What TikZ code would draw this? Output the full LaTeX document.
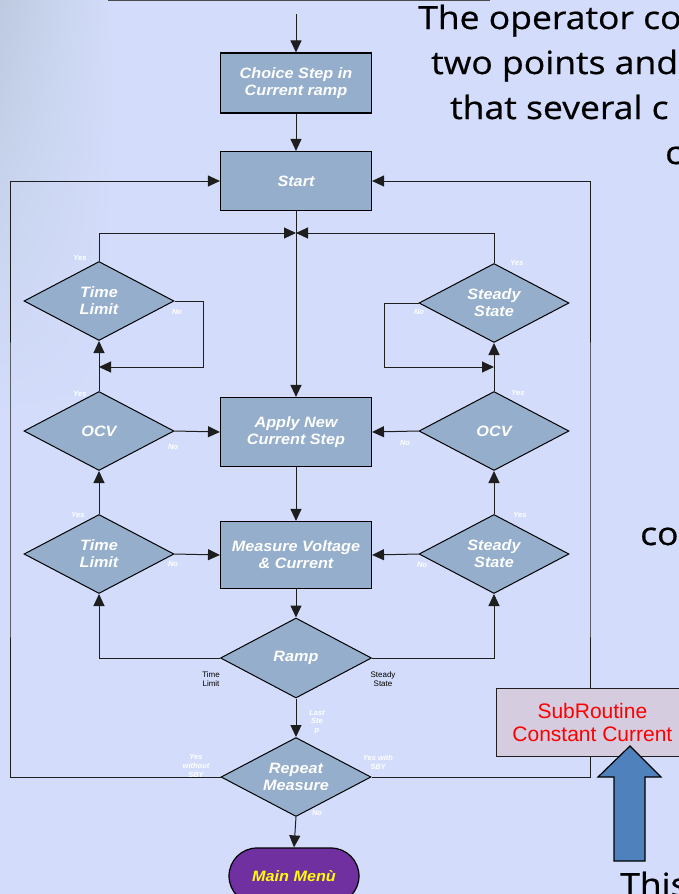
\documentclass[tikz,border=0pt]{standalone}
\usepackage{fontspec}
\setmainfont{Liberation Sans}
\newfontfamily\flowfont[FakeStretch=1.08]{Liberation Sans}
\newfontfamily\handfont[FakeStretch=1.11,FakeBold=0.6]{Open Sans}
\usetikzlibrary{arrows.meta,shapes.geometric}

\definecolor{pagebg}{RGB}{211,221,251}
\definecolor{haze}{RGB}{190,202,224}
\definecolor{boxblue}{RGB}{149,174,204}
\definecolor{menupurple}{RGB}{112,48,160}
\definecolor{menuyellow}{RGB}{255,255,0}
\definecolor{subfill}{RGB}{214,204,224}
\definecolor{blockblue}{RGB}{79,129,189}
\definecolor{linecol}{RGB}{30,30,30}

\tikzset{
  conn/.style={draw=linecol, line width=1pt},
  arr/.style={conn, -{Triangle[length=12pt,width=11pt]}},
  flowtext/.style={text=white, align=center, inner sep=0pt,
    font=\flowfont\bfseries\itshape\fontsize{15}{17}\selectfont},
  procbox/.style={flowtext, draw=black, line width=1.1pt, fill=boxblue,
    rectangle, minimum width=151pt},
  decision/.style={flowtext, draw=black, line width=1pt, fill=boxblue,
    diamond, aspect=1.9, minimum width=150pt, minimum height=79pt},
  tag/.style={text=white, inner sep=0pt, align=center,
    font=\bfseries\itshape\fontsize{7.5}{8.7}\selectfont},
  plaintag/.style={text=black, inner sep=0pt, align=center,
    font=\fontsize{8}{9}\selectfont},
  hand/.style={anchor=base west, inner sep=0pt,
    font=\handfont\fontsize{32}{32}\selectfont},
  subbox/.style={draw=linecol, line width=0.8pt, fill=subfill, text=red,
    align=center, inner sep=0pt, font=\fontsize{21}{23}\selectfont},
  menubox/.style={flowtext, draw=black, line width=1.2pt, fill=menupurple,
    text=menuyellow, rectangle, rounded corners=28pt,
    minimum width=130pt, minimum height=56pt},
}

\begin{document}
\begin{tikzpicture}[x=1pt,y=-1pt]
\useasboundingbox (0,0) rectangle (679,894);
\clip (0,0) rectangle (679,894);

% page background
\fill[pagebg] (0,0) rectangle (679,894);
% greyish haze in the upper left corner, thinning out downwards
\foreach \i in {0,...,83} {
  \pgfmathtruncatemacro\k{100*(1-\i/84)}
  \colorlet{hazestrip}{haze!\k!pagebg}
  \shade[left color=hazestrip, right color=pagebg]
    (0,\i*5) rectangle (115,\i*5+5.6);
}

% edge of the frame above
\draw[gray!60!black, line width=1.6pt] (108,0) -- (490,0);

% process boxes
\node[procbox, minimum height=60pt] (choice) at (296,83) {Choice Step in\\Current ramp};
\node[procbox, minimum height=59pt] (start) at (296,181) {Start};
\node[procbox, minimum height=69pt] (apply) at (296,432) {Apply New\\Current Step};
\node[procbox, minimum height=67pt] (measure) at (296,555) {Measure Voltage\\\& Current};

% decisions, left column
\node[decision] (tlA) at (99,301) {Time\\Limit};
\node[decision] (ocvL) at (99,431) {OCV};
\node[decision] (tlB) at (99,554) {Time\\Limit};

% decisions, right column
\node[decision] (ssA) at (494,303) {Steady\\State};
\node[decision] (ocvR) at (494,431) {OCV};
\node[decision] (ssB) at (494,554) {Steady\\State};

% decisions, centre
\node[decision, minimum width=151pt, minimum height=80pt] (ramp) at (296,658) {Ramp};
\node[decision] (repeat) at (296,777) {Repeat\\Measure};

% end of the routine
\node[menubox] (menu) at (294,876) {Main Menù};

% helper points
\coordinate (entry) at (296,14);
\coordinate (merge) at (296,233);
\coordinate (tlback) at (99,367);
\coordinate (ssback) at (494,367);
\coordinate (leftrail) at (10,500);
\coordinate (rightrail) at (590,500);

% main chain
\draw[arr] (entry) -- (choice.north);
\draw[arr] (choice.south) -- (start.north);
\draw[arr] (start.south) -- (apply.north);
\draw[arr] (apply.south) -- (measure.north);
\draw[arr] (measure.south) -- (ramp.north);
\draw[arr] (ramp.south) -- (repeat.north);
\draw[arr] (repeat.south) -- (menu.north);

% left column
\draw[arr] (tlA.north) |- (merge);
\draw[arr] (tlA.east) -- ++(29,0) |- (tlback);
\draw[arr] (ocvL.north) -- (tlA.south);
\draw[arr] (tlB.north) -- (ocvL.south);
\draw[arr] (ocvL.east) -- (apply.west);
\draw[arr] (tlB.east) -- (measure.west);
\draw[arr] (ramp.west) -| (tlB.south);

% right column
\draw[arr] (ssA.north) |- (merge);
\draw[arr] (ssA.west) -- ++(-34,0) |- (ssback);
\draw[arr] (ocvR.north) -- (ssA.south);
\draw[arr] (ssB.north) -- (ocvR.south);
\draw[arr] (ocvR.west) -- (apply.east);
\draw[arr] (ssB.west) -- (measure.east);
\draw[arr] (ramp.east) -| (ssB.south);

% repeat loops back to start
\draw[arr] (repeat.west) -| (leftrail) |- (start.west);
\draw[arr] (repeat.east) -| (rightrail) |- (start.east);

% branch labels
\node[tag] (yA) at (80,258) {Yes};
\node[tag] (nA) at (177,312) {No};
\node[tag] (yB) at (80,394) {Yes};
\node[tag] (nB) at (173,447) {No};
\node[tag] (yC) at (78,515) {Yes};
\node[tag] (nC) at (173,564) {No};
\node[tag] (yD) at (517,263) {Yes};
\node[tag] (nD) at (419,312) {No};
\node[tag] (yE) at (518,393) {Yes};
\node[tag] (nE) at (405,443) {No};
\node[tag] (yF) at (520,515) {Yes};
\node[tag] (nF) at (422,565) {No};
\node[plaintag] (rampL) at (211,679) {Time\\Limit};
\node[plaintag] (rampR) at (383,679) {Steady\\State};
\node[tag] (laststep) at (317,722) {Last\\Ste\\p};
\node[tag] (yesno) at (196,766) {Yes\\without\\SBY};
\node[tag] (yeswith) at (378,762) {Yes with\\SBY};
\node[tag] (repno) at (317,813) {No};

% subroutine caption and its pointer
\node[subbox, anchor=north west, minimum width=192pt, minimum height=68pt] (sub) at (496,688) {SubRoutine\\Constant Current};
\fill[blockblue, draw=black, line width=1.2pt, line join=miter]
  (630,746) -- (661,777) -- (645,777) -- (645,861) -- (614,861) -- (614,777) -- (598,777) -- cycle;

% explanatory notes on the right
\node[hand] (noteA) at (418,29) {The operator co};
\node[hand] (noteB) at (431,74) {two points and};
\node[hand] (noteC) at (450,119) {that several c};
\node[hand] (noteD) at (665,164) {c};
\node[hand] (noteE) at (640,545) {co};
\node[hand] (noteF) at (620,896) {This};
\end{tikzpicture}
\end{document}
